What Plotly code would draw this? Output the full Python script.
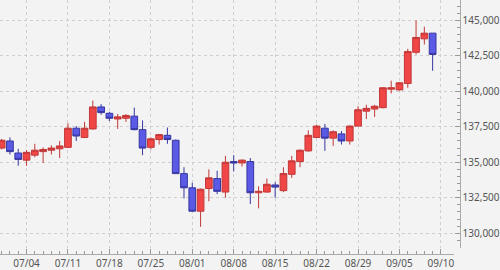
import pandas as pd
import plotly.graph_objects as go

# Trading days shown (month/day)
dates = [d.strftime("%m/%d") for d in pd.bdate_range("2022-06-29", "2022-09-09")]
axis_end_label = "09/10"
tick_labels = ["07/04", "07/11", "07/18", "07/25", "08/01", "08/08",
               "08/15", "08/22", "08/29", "09/05", "09/10"]

opens = [136000, 136500, 135650, 135150, 135500, 135750, 135850, 135950, 136050, 137400,
         136750, 137350, 138900, 138450, 138050, 138100, 138250, 137300, 136050, 136600,
         136900, 136550, 134200, 133200, 131550, 133150, 133850, 132900, 135050, 134950,
         135050, 132850, 132900, 133400, 133000, 134150, 135050, 135800, 136750, 137400,
         136700, 137000, 136500, 137550, 138600, 138750, 138850, 140150, 140100, 140550,
         142750, 143700, 144100]
highs = [136650, 136750, 135950, 135850, 136300, 136050, 136200, 136500, 137750, 137550,
         137850, 139350, 139100, 138550, 138400, 138400, 138850, 137950, 136750, 137000,
         137450, 136600, 134650, 133550, 133150, 134500, 134400, 135450, 135500, 135200,
         135300, 133300, 133850, 133600, 134650, 135450, 135900, 137250, 137650, 137700,
         137250, 137200, 137600, 138950, 139050, 139050, 140300, 140750, 140650, 143000,
         145000, 144550, 144100]
lows = [135900, 135550, 134750, 134750, 135350, 134950, 135550, 135300, 136000, 136500,
        136700, 137300, 138350, 137900, 137350, 137850, 137250, 135500, 135900, 136250,
        136300, 134200, 132450, 131500, 130450, 132250, 132750, 132500, 134350, 134700,
        132050, 131750, 132850, 132500, 132900, 133900, 134650, 135750, 136700, 135800,
        136150, 136250, 136250, 137550, 138050, 138200, 138800, 139850, 140050, 140250,
        142600, 143300, 141450]
closes = [136550, 135750, 135200, 135700, 135850, 135900, 136000, 136150, 137400, 136850,
          137400, 138900, 138500, 138100, 138200, 138300, 137300, 136000, 136650, 136950,
          136600, 134200, 133200, 131550, 133100, 133900, 132950, 135000, 134950, 135150,
          132850, 132950, 133450, 133250, 134200, 135100, 135850, 136900, 137550, 136700,
          137150, 136500, 137550, 138700, 138800, 138950, 140250, 140250, 140600, 142800,
          143800, 144100, 142600]

slots = dates + [axis_end_label]
x_idx = list(range(len(dates)))
tick_pos = [slots.index(t) for t in tick_labels]

fig = go.Figure(go.Candlestick(
    x=x_idx, open=opens, high=highs, low=lows, close=closes,
    increasing=dict(fillcolor="#f04646", line=dict(color="#c23838", width=1)),
    decreasing=dict(fillcolor="#5a5ae6", line=dict(color="#3636a0", width=1)),
    whiskerwidth=0,
    hoverinfo="skip",
))

font = dict(family="Noto Sans, DejaVu Sans, sans-serif", size=10, color="#555555")

fig.update_layout(
    width=500, height=270,
    margin=dict(l=0, r=0, t=0, b=0),
    paper_bgcolor="#f3f3f3",
    plot_bgcolor="#f3f3f3",
    showlegend=False,
    boxgap=0.1, boxgroupgap=0.1,
    font=font,
    xaxis=dict(
        domain=[0, 0.924],
        anchor="free", position=0.0456,
        range=[-0.2, 54.54],
        tickmode="array", tickvals=tick_pos, ticktext=tick_labels,
        ticks="inside", ticklen=5, tickcolor="#999999",
        showline=True, linecolor="#aaaaaa", linewidth=1,
        showgrid=True, gridcolor="#cfcfcf", griddash="dot", gridwidth=1,
        zeroline=False,
        rangeslider=dict(visible=False),
        minor=dict(tickmode="array", tickvals=list(range(len(slots))),
                   ticks="inside", ticklen=3, tickcolor="#999999", showgrid=False),
        tickfont=font,
        fixedrange=True,
    ),
    yaxis=dict(
        domain=[0.0667, 1],
        anchor="free", position=0.936, side="right",
        range=[128938, 146437],
        tick0=0, dtick=2500, tickformat=",d",
        ticks="inside", ticklen=5, tickcolor="#999999",
        showline=True, linecolor="#aaaaaa", linewidth=1,
        showgrid=True, gridcolor="#cfcfcf", griddash="dot", gridwidth=1,
        zeroline=False,
        minor=dict(dtick=500, ticks="inside", ticklen=3, tickcolor="#999999", showgrid=False),
        tickfont=font,
        fixedrange=True,
    ),
)

fig.write_html("out.html", config={"displayModeBar": False})
